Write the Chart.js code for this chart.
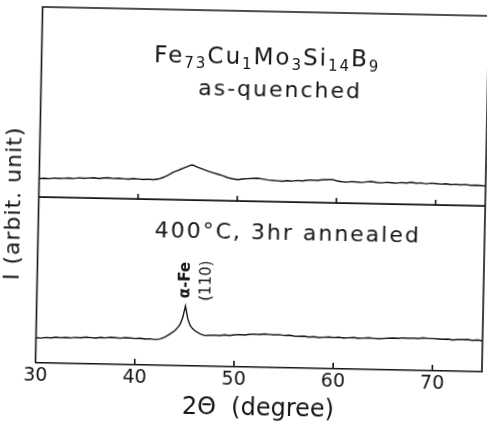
<!DOCTYPE html>
<html>
<head>
<meta charset="utf-8">
<script src="https://cdn.jsdelivr.net/npm/chart.js@4.4.1/dist/chart.umd.min.js"></script>
<style>
  html, body { margin: 0; padding: 0; background: #fff; overflow: hidden; }
  /* the scanned figure sits a little rotated on the page */
  #xrd { display: block; transform: rotate(1.15deg); transform-origin: 243.5px 214.5px; }
</style>
</head>
<body>
<canvas id="xrd" width="487" height="429"></canvas>
<script>
// 2-theta positions (degree) shared by both scans
const twoTheta = [
  30, 30.5, 31, 31.5, 32, 32.5, 33, 33.5, 34, 34.5, 35, 35.5, 36, 36.5, 37, 37.5,
  38, 38.5, 39, 39.5, 40, 40.5, 41, 41.5, 42, 42.5, 43, 43.5, 44,
  44.25, 44.5, 44.75, 45, 45.25, 45.5, 45.75, 46,
  46.5, 47, 47.5, 48, 48.5, 49, 49.5, 50, 50.5, 51, 51.5, 52, 52.5, 53, 53.5,
  54, 54.5, 55, 55.5, 56, 56.5, 57, 57.5, 58, 58.5, 59, 59.5, 60, 60.5, 61, 61.5,
  62, 62.5, 63, 63.5, 64, 64.5, 65, 65.5, 66, 66.5, 67, 67.5, 68, 68.5, 69, 69.5,
  70, 70.5, 71, 71.5, 72, 72.5, 73, 73.5, 74, 74.5, 75
];

// as-quenched scan (upper trace), arbitrary units
const asQuenched = [
  51.8, 51.9, 51.8, 52.0, 51.9, 52.0, 52.1, 52.0, 52.2, 52.1, 52.2, 52.3, 52.1, 52.3, 52.4, 52.2,
  52.3, 52.2, 52.1, 52.3, 52.2, 52.1, 52.2, 52.1, 52.3, 52.8, 53.5, 54.3, 54.9,
  55.2, 55.5, 55.8, 56.1, 56.4, 56.4, 56.1, 55.8,
  55.3, 54.8, 54.4, 54.0, 53.6, 53.1, 52.8, 52.6, 52.8, 52.9, 53.0, 53.1, 52.9, 52.7, 52.6,
  52.5, 52.4, 52.6, 52.5, 52.7, 52.6, 52.8, 52.9, 52.8, 53.0, 53.1, 53.2, 52.8, 52.6, 52.5, 52.7,
  52.6, 52.5, 52.7, 52.8, 52.6, 52.5, 52.7, 52.6, 52.5, 52.7, 52.6, 52.8, 52.6, 52.7, 52.5, 52.7,
  52.6, 52.5, 52.6, 52.4, 52.5, 52.4, 52.5, 52.3, 52.4, 52.3, 52.2
];

// 400 C / 3 hr annealed scan (lower trace), arbitrary units
const annealed = [
  7.1, 7.0, 7.2, 7.1, 7.3, 7.2, 7.3, 7.2, 7.4, 7.3, 7.5, 7.4, 7.3, 7.5, 7.4, 7.6,
  7.5, 7.4, 7.6, 7.5, 7.4, 7.5, 7.3, 7.4, 7.2, 7.4, 8.0, 8.9, 9.9,
  10.7, 11.7, 13.6, 16.8, 13.3, 11.4, 10.5, 9.9,
  9.1, 8.6, 8.7, 8.8, 8.7, 8.9, 8.8, 9.0, 9.1, 9.0, 9.2, 9.3, 9.2, 9.4, 9.3,
  9.2, 9.3, 9.1, 9.2, 9.0, 8.9, 9.0, 8.8, 8.9, 8.7, 8.8, 8.9, 8.8, 8.9, 8.7, 8.8,
  8.9, 8.7, 8.8, 8.9, 8.8, 8.7, 8.8, 8.9, 9.0, 8.9, 9.1, 9.0, 9.1, 9.0, 9.2, 9.1,
  9.1, 9.0, 8.9, 9.0, 8.8, 8.9, 8.9, 9.0, 8.8, 8.9, 8.7
];

// tick labels on the 2-theta axis
const xTicks = [30, 40, 50, 60, 70];

// level of the line that splits the two panels
const panelDivider = 46.6;

// text labels: [text, 2theta, intensity]
const upperLabel = ["as-quenched", 54.1, 76.1];
const lowerLabel = ["400°C, 3hr annealed", 55.15, 35.9];
const peakLabels = [["α-Fe", 45.0, 24.1], ["(110)", 47.1, 24.0]];
// composition, pieces flagged 1 are subscripts
const formula = [["Fe", 0], ["73", 1], ["Cu", 0], ["1", 1], ["Mo", 0], ["3", 1], ["Si", 0], ["14", 1], ["B", 0], ["9", 1]];
const formulaAt = [52.75, 85.0];

const ink = "#141414";
const face = "'DejaVu Sans', sans-serif";

const zip = (xs, ys) => xs.map((v, i) => ({ x: v, y: ys[i] }));

// frame, panel divider, inward ticks and in-plot text
const framePlugin = {
  id: "frame",
  afterDatasetsDraw(chart) {
    const { ctx, chartArea: a, scales } = chart;
    const x = scales.x, y = scales.y;
    ctx.save();
    ctx.strokeStyle = ink;
    ctx.lineWidth = 1.6;
    ctx.beginPath();
    ctx.moveTo(a.left, a.bottom);
    ctx.lineTo(a.left, a.top);
    ctx.lineTo(a.right, a.top);
    ctx.lineTo(a.right, a.bottom);
    const yd = y.getPixelForValue(panelDivider);
    ctx.moveTo(a.left, yd);
    ctx.lineTo(a.right, yd);
    x.ticks.filter((t) => t.value > x.min).forEach((t) => {
      const px = x.getPixelForValue(t.value);
      ctx.moveTo(px, a.bottom);
      ctx.lineTo(px, a.bottom - 6);
      ctx.moveTo(px, yd);
      ctx.lineTo(px, yd - 5);
    });
    ctx.stroke();

    ctx.fillStyle = ink;
    ctx.textBaseline = "alphabetic";

    // composition
    ctx.letterSpacing = "2px";
    const mainFont = "23px " + face, subFont = "15px " + face;
    let total = 0;
    formula.forEach(([s, sub]) => {
      ctx.font = sub ? subFont : mainFont;
      total += ctx.measureText(s).width;
    });
    let cx = x.getPixelForValue(formulaAt[0]) - total / 2;
    const by = y.getPixelForValue(formulaAt[1]);
    ctx.textAlign = "left";
    formula.forEach(([s, sub]) => {
      ctx.font = sub ? subFont : mainFont;
      ctx.fillText(s, cx, sub ? by + 5 : by);
      cx += ctx.measureText(s).width;
    });

    ctx.textAlign = "center";
    ctx.font = "22px " + face;
    [upperLabel, lowerLabel].forEach(([s, vx, vy]) => {
      ctx.fillText(s, x.getPixelForValue(vx), y.getPixelForValue(vy));
    });

    // peak assignment, written upward
    ctx.letterSpacing = "0px";
    ctx.textBaseline = "middle";
    peakLabels.forEach(([s, vx, vy], i) => {
      ctx.save();
      ctx.translate(x.getPixelForValue(vx), y.getPixelForValue(vy));
      ctx.rotate(-Math.PI / 2);
      ctx.font = (i === 0 ? "bold 15px " : "15px ") + face;
      ctx.fillText(s, 0, 0);
      ctx.restore();
    });

    // y-axis title
    ctx.save();
    ctx.translate(14, 208);
    ctx.rotate(-Math.PI / 2);
    ctx.letterSpacing = "1px";
    ctx.font = "22px " + face;
    ctx.fillText("I (arbit. unit)", 0, 0);
    ctx.restore();
    ctx.restore();
  },
};

new Chart(document.getElementById("xrd"), {
  type: "line",
  data: {
    datasets: [
      { label: "as-quenched", data: zip(twoTheta, asQuenched) },
      { label: "400°C, 3hr annealed", data: zip(twoTheta, annealed) },
    ],
  },
  options: {
    responsive: false,
    animation: false,
    devicePixelRatio: 1,
    layout: { padding: { left: 38.5, right: 2, top: 11, bottom: 0 } },
    elements: {
      point: { radius: 0 },
      line: { borderColor: ink, borderWidth: 1.4, tension: 0, fill: false },
    },
    plugins: { legend: { display: false }, tooltip: { enabled: false } },
    scales: {
      x: {
        type: "linear",
        min: 30,
        max: 75,
        afterBuildTicks: (s) => { s.ticks = xTicks.map((v) => ({ value: v })); },
        afterFit: (s) => { s.height = 62; },
        ticks: { color: ink, padding: 2, font: { family: face, size: 19 } },
        grid: { display: false, drawTicks: false },
        border: { display: true, color: ink, width: 1.6 },
        title: {
          display: true,
          text: "2Θ  (degree)",
          color: ink,
          font: { family: face, size: 24 },
          padding: { top: 0, bottom: 6 },
        },
      },
      y: { display: false, min: 0, max: 100 },
    },
  },
  plugins: [framePlugin],
});
</script>
</body>
</html>
